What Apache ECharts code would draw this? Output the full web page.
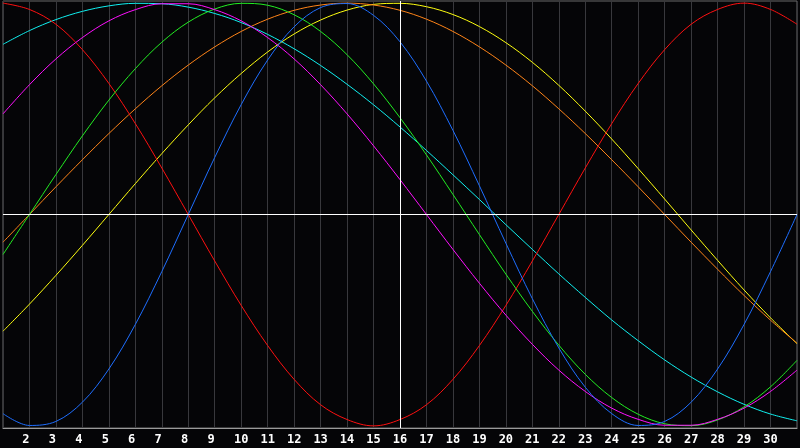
<!DOCTYPE html>
<html>
<head>
<meta charset="utf-8">
<script src="https://cdn.jsdelivr.net/npm/echarts@6/dist/echarts.min.js"></script>
<style>
html,body{margin:0;padding:0;background:#050507;}
#c{width:800px;height:448px;}
</style>
</head>
<body>
<div id="c"></div>
<script>
var days = [1,2,3,4,5,6,7,8,9,10,11,12,13,14,15,16,17,18,19,20,21,22,23,24,25,26,27,28,29,30,31];
var today = 16;
var red = [1.00,0.97,0.90,0.78,0.62,0.43,0.22,0.00,-0.22,-0.43,-0.62,-0.78,-0.90,-0.97,-1.00,-0.97,-0.90,-0.78,-0.62,-0.43,-0.22,0.00,0.22,0.43,0.62,0.78,0.90,0.97,1.00,0.97,0.90];
var blue = [-0.942,-0.998,-0.979,-0.888,-0.731,-0.520,-0.270,0.000,0.270,0.520,0.731,0.888,0.979,0.998,0.942,0.817,0.631,0.398,0.136,-0.136,-0.398,-0.631,-0.817,-0.942,-0.998,-0.979,-0.888,-0.731,-0.520,-0.270,0.000];
var green = [-0.189,0.000,0.189,0.372,0.541,0.690,0.815,0.910,0.972,0.999,0.990,0.945,0.866,0.756,0.618,0.458,0.282,0.095,-0.095,-0.282,-0.458,-0.618,-0.756,-0.866,-0.945,-0.990,-0.999,-0.972,-0.910,-0.815,-0.690];
var magenta = [0.476,0.614,0.736,0.837,0.916,0.969,0.997,0.997,0.969,0.916,0.837,0.736,0.614,0.476,0.325,0.165,0.000,-0.165,-0.325,-0.476,-0.614,-0.736,-0.837,-0.916,-0.969,-0.997,-0.997,-0.969,-0.916,-0.837,-0.736];
var cyan = [0.805,0.870,0.922,0.961,0.987,0.999,0.997,0.981,0.951,0.908,0.852,0.784,0.705,0.616,0.519,0.414,0.303,0.188,0.071,-0.048,-0.165,-0.281,-0.392,-0.499,-0.597,-0.688,-0.769,-0.839,-0.898,-0.944,-0.976];
var orange = [-0.131,0.000,0.131,0.259,0.383,0.500,0.609,0.707,0.793,0.866,0.924,0.966,0.991,1.000,0.991,0.966,0.924,0.866,0.793,0.707,0.609,0.500,0.383,0.259,0.131,0.000,-0.131,-0.259,-0.383,-0.500,-0.609];
var yellow = [-0.552,-0.424,-0.288,-0.146,0.000,0.146,0.288,0.424,0.552,0.667,0.769,0.854,0.920,0.967,0.994,0.999,0.983,0.946,0.889,0.813,0.720,0.611,0.489,0.357,0.217,0.073,-0.073,-0.217,-0.357,-0.489,-0.611];

function pairs(arr){ return days.map(function(d,i){ return [d, arr[i]]; }); }

var colors = {red:'#ff1010', blue:'#1e6eff', green:'#22ee22', magenta:'#ff10ff', cyan:'#10f0f0', orange:'#ff8418', yellow:'#ffff10'};
var order = [['yellow',yellow],['orange',orange],['cyan',cyan],['red',red],['green',green],['magenta',magenta],['blue',blue]];

var series = order.map(function(o){
  return {
    type:'line', name:o[0], data:pairs(o[1]), smooth:0.35, symbol:'none',
    lineStyle:{color:colors[o[0]], width:1}, silent:true, animation:false
  };
});
series.unshift({
  type:'line', data:[], silent:true, animation:false,
  markLine:{
    silent:true, symbol:['none','none'], label:{show:false}, animation:false,
    lineStyle:{color:'#ffffff', width:1, type:'solid'},
    data:[{yAxis:0},{xAxis:today}]
  }
});

var chart = echarts.init(document.getElementById('c'));
chart.setOption({
  backgroundColor:'#050507',
  animation:false,
  grid:{left:1, right:1, top:1, bottom:20, show:true, borderColor:'#6a6a6a', borderWidth:1},
  xAxis:{
    type:'value', min:1, max:31, interval:1,
    axisLine:{onZero:false, lineStyle:{color:'#9a9a9a', width:1}},
    axisTick:{show:false},
    splitLine:{show:true, lineStyle:{color:'#38383c', width:1}},
    axisLabel:{
      color:'#ffffff', fontFamily:'DejaVu Sans Mono', fontWeight:'bold', fontSize:12, margin:6,
      formatter:function(v){
        if (v <= 1 || v >= 31) return '';
        return v < 10 ? String(v) + '\u00a0' : String(v);
      }
    }
  },
  yAxis:{
    type:'value', min:-1.01, max:1.01,
    axisLine:{show:false}, axisTick:{show:false}, axisLabel:{show:false}, splitLine:{show:false}
  },
  series:series
});
</script>
</body>
</html>
